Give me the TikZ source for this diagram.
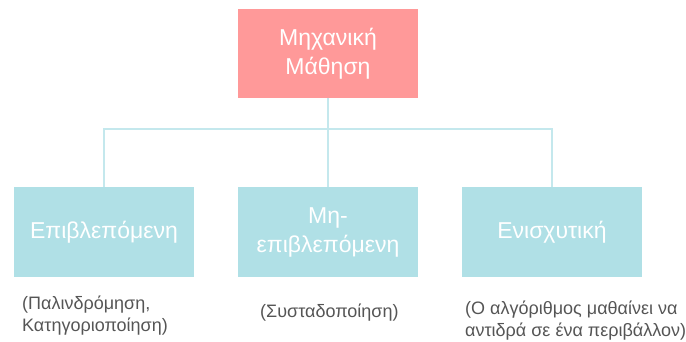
\documentclass[tikz,border=0pt]{standalone}
\usepackage{fontspec}
\setmainfont{Liberation Sans}
\usepackage{xcolor}
\usepackage{tikz}

\definecolor{mlred}{RGB}{255,153,153}
\definecolor{mlblue}{RGB}{176,224,230}
\definecolor{mlline}{RGB}{196,232,237}
\definecolor{mltext}{RGB}{85,85,85}

\begin{document}
\begin{tikzpicture}[x=1pt,y=-1pt,
  topbox/.style={fill=mlred, minimum width=180pt, minimum height=89pt, align=center, text=white, font=\fontsize{23}{29}\selectfont},
  kindbox/.style={fill=mlblue, minimum width=180pt, minimum height=90pt, align=center, text=white, font=\fontsize{23}{29}\selectfont},
  note/.style={anchor=north west, inner sep=0pt, align=left, text=mltext, font=\fontsize{18}{22}\selectfont},
  link/.style={mlline, line width=2pt}]
\useasboundingbox (0,0) rectangle (686,342);

% Boxes
\node[topbox] (ml) at (328,53.5) {Μηχανική\\Μάθηση};
\node[kindbox] (sup) at (104,232) {Επιβλεπόμενη};
\node[kindbox] (unsup) at (328,232) {Μη-\\επιβλεπόμενη};
\node[kindbox] (rein) at (552,232) {Ενισχυτική};

% Connectors
\coordinate (split) at (328,129);
\draw[link] (ml.south) -- (split);
\draw[link] (split) -| (sup.north);
\draw[link] (split) -- (unsup.north);
\draw[link] (split) -| (rein.north);

% Notes
\node[note] (supnote) at (22,296) {(Παλινδρόμηση,\\Κατηγοριοποίηση)};
\node[note] (unsupnote) at (260,304) {(Συσταδοποίηση)};
\node[note] (reinnote) at (465,301) {(Ο αλγόριθμος μαθαίνει να\\αντιδρά σε ένα περιβάλλον)};

\end{tikzpicture}
\end{document}
